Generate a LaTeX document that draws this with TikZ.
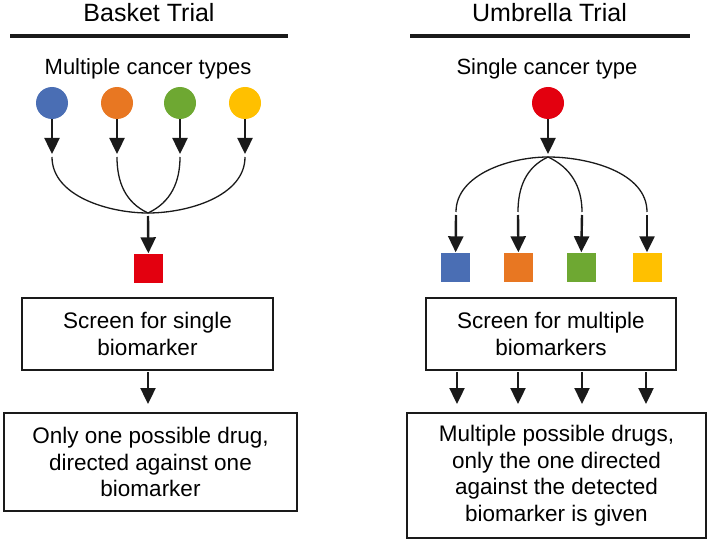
\documentclass[tikz,border=0pt]{standalone}
\usepackage{fontspec}
\setmainfont{Liberation Sans}
\usetikzlibrary{arrows.meta}
\definecolor{cblue}{HTML}{4A6EB4}
\definecolor{corange}{HTML}{E87722}
\definecolor{cgreen}{HTML}{6EA832}
\definecolor{cyellow}{HTML}{FFC000}
\definecolor{cred}{HTML}{E3000F}
\definecolor{cline}{HTML}{1A1A1A}
\begin{document}
\begin{tikzpicture}[x=1pt,y=-1pt,
  dot/.style={circle, minimum size=32pt, inner sep=0pt},
  sq/.style={rectangle, minimum size=29pt, inner sep=0pt},
  box/.style={draw=cline, line width=1.3pt, align=center, inner sep=0pt, font=\fontsize{22.5}{26.6}\selectfont},
  lbl/.style={inner sep=0pt, font=\fontsize{22}{26.5}\selectfont},
  head/.style={inner sep=0pt, font=\fontsize{25}{30}\selectfont},
  rule/.style={line width=3.5pt, draw=cline},
  arr/.style={draw=cline, line width=2.4pt, -{Triangle[length=16pt,width=15pt]}},
  curve/.style={draw=cline, line width=1.3pt}]
\useasboundingbox (0,0) rectangle (709,540);

% headers
\node[head] (hB) at (149,13) {Basket Trial};
\node[head] (hU) at (549.5,13) {Umbrella Trial};
\coordinate (lB1) at (10,36); \coordinate (lB2) at (288,36);
\coordinate (lU1) at (410,36); \coordinate (lU2) at (690,36);
\draw[rule] (lB1) -- (lB2);
\draw[rule] (lU1) -- (lU2);

\node[lbl] (mct) at (148,69) {Multiple cancer types};
\node[lbl] (sct) at (547,69) {Single cancer type};

% ---- Basket
\node[dot, fill=cblue] (c1) at (52,103) {};
\node[dot, fill=corange] (c2) at (117,103) {};
\node[dot, fill=cgreen] (c3) at (180,103) {};
\node[dot, fill=cyellow] (c4) at (245,103) {};
\foreach \i/\x in {1/52,2/117,3/180,4/245}{
  \coordinate (t\i) at (\x,154);
  \coordinate (s\i) at (\x,157);
  \draw[arr] (c\i) -- (t\i);
}
\coordinate (m) at (148,213);
\coordinate (mt) at (148,216);
\draw[curve] (s1) to[out=-90,in=180,looseness=0.9] (m);
\draw[curve] (s4) to[out=-90,in=0,looseness=0.9] (m);
\draw[curve] (s2) to[out=-90,in=155,looseness=1] (m);
\draw[curve] (s3) to[out=-90,in=25,looseness=1] (m);
\node[sq, fill=cred] (rs) at (148.5,268) {};
\draw[arr] (mt) -- (rs);

\node[box, minimum width=251pt, minimum height=72pt] (b1) at (147.5,334) {Screen for single\\biomarker};
\node[box, minimum width=293pt, minimum height=98pt] (b2) at (150.5,462) {Only one possible drug,\\directed against one\\biomarker};
\coordinate (b1s) at (148,372);
\coordinate (b2t) at (148,404);
\draw[arr] (b1s) -- (b2t);

% ---- Umbrella
\node[dot, fill=cred] (rc) at (548,103) {};
\coordinate (at) at (548,154);
\coordinate (ap) at (548,157);
\draw[arr] (rc) -- (at);
\node[sq, fill=cblue] (q1) at (455.5,267) {};
\node[sq, fill=corange] (q2) at (518.5,267) {};
\node[sq, fill=cgreen] (q3) at (581,267) {};
\node[sq, fill=cyellow] (q4) at (647,267) {};
\foreach \i/\x in {1/456,2/518,3/582,4/647}{
  \coordinate (e\i) at (\x,212);
  \coordinate (f\i) at (\x,215);
}
\draw[curve] (ap) to[out=180,in=90,looseness=0.9] (e1);
\draw[curve] (ap) to[out=0,in=90,looseness=0.9] (e4);
\draw[curve] (ap) to[out=205,in=90,looseness=1] (e2);
\draw[curve] (ap) to[out=-25,in=90,looseness=1] (e3);
\foreach \i in {1,...,4}{ \draw[arr] (f\i) -- (q\i); }

\node[box, minimum width=250pt, minimum height=72pt] (b3) at (551,334) {Screen for multiple\\biomarkers};
\node[box, minimum width=299pt, minimum height=125pt] (b4) at (556.5,475.5) {Multiple possible drugs,\\only the one directed\\against the detected\\biomarker is given};
\foreach \i/\x in {1/457,2/518,3/582,4/646}{
  \coordinate (g\i) at (\x,372);
  \coordinate (h\i) at (\x,404);
  \draw[arr] (g\i) -- (h\i);
}
\end{tikzpicture}
\end{document}
